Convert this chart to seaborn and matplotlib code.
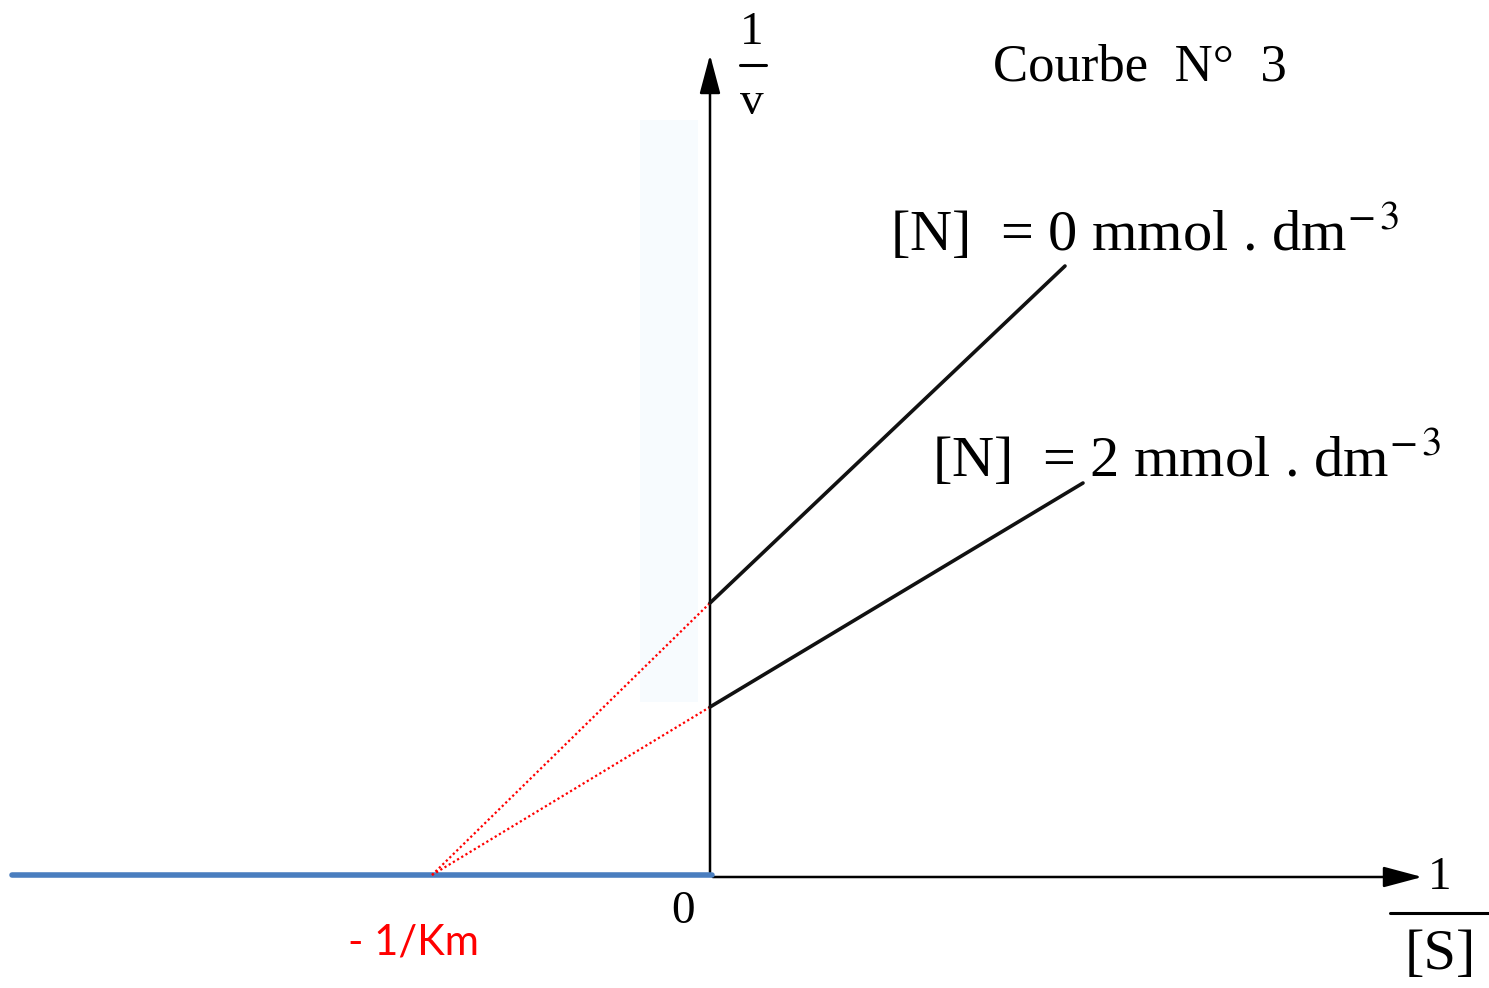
import matplotlib
matplotlib.use("Agg")
import matplotlib.pyplot as plt
import seaborn as sns
import pandas as pd

# Lineweaver-Burk plot, Courbe N° 3 (arbitrary units, origin = 0)

# --- data ---
km_x = -2.78                       # -1/Km intersection on the x axis
conc_labels = ["[N]  = 0", "[N]  = 2"]
seg_x0 = [0.0, 3.55]               # [N] = 0 mmol/dm3
seg_y0 = [2.72, 6.09]
seg_x2 = [0.0, 3.73]               # [N] = 2 mmol/dm3
seg_y2 = [1.68, 3.92]
blue_x = [-6.98, 0.02]
blue_y = [0.0, 0.0]
x_axis_end = 7.15
y_axis_end = 8.23

sns.set_theme(style="white")
plt.rcParams["font.family"] = ["Liberation Serif", "DejaVu Serif"]
plt.rcParams["mathtext.fontset"] = "stix"
plt.rcParams["text.color"] = "black"

fig = plt.figure(figsize=(14.89, 9.88), dpi=100)
ax = fig.add_axes([0, 0, 1, 1])
ax.set_xlim(-7.10, 7.79)
ax.set_ylim(-1.13, 8.75)
ax.axis("off")

# faint light-blue patch left of y axis
ax.fill_between([-0.70, -0.12], 1.73, 7.55, color="#f7fbfe", lw=0, zorder=0)

# axes with arrows
arrow = dict(arrowstyle="-|>,head_length=0.75,head_width=0.2",
             lw=1.8, color="black", mutation_scale=32)
ax.annotate("", xy=(0, y_axis_end), xytext=(0, 0), arrowprops=arrow)
ax.annotate("", xy=(x_axis_end, -0.02), xytext=(0, -0.02), arrowprops=arrow)

# blue line on negative x axis
sns.lineplot(x=blue_x, y=blue_y, ax=ax, color="#4a7ebf", lw=4, zorder=3)

# red dotted extrapolations to -1/Km
for yy in [seg_y0[0], seg_y2[0]]:
    ext = pd.DataFrame({"x": [km_x, 0.0], "y": [0.0, yy]})
    sns.lineplot(data=ext, x="x", y="y", ax=ax, color="red", lw=1.6,
                 linestyle=(0, (1, 1.2)), zorder=4)

# measured lines
sns.lineplot(x=seg_x0, y=seg_y0, ax=ax, color="#111111", lw=2.6, zorder=5)
sns.lineplot(x=seg_x2, y=seg_y2, ax=ax, color="#111111", lw=2.6, zorder=5)

# 1/v label
ax.text(0.42, 8.42, "1", fontsize=34, ha="center", va="center")
ax.plot([0.30, 0.56], [8.10, 8.10], color="black", lw=2.2)
ax.text(0.42, 7.72, "v", fontsize=34, ha="center", va="center")

# 1/[S] label
ax.text(7.30, -0.03, "1", fontsize=34, ha="center", va="center")
ax.plot([6.80, 7.79], [-0.38, -0.38], color="black", lw=2.2)
ax.text(7.30, -0.80, "[S]", fontsize=42, ha="center", va="center")

# origin
ax.text(-0.27, -0.37, "0", fontsize=34, ha="center", va="center")

# title and curve labels
ax.text(4.30, 8.07, "Courbe  N°  3", fontsize=38, ha="center", va="center")
ax.text(1.80, 6.42, conc_labels[0] + r" mmol . dm$^{-\,3}$", fontsize=42,
        ha="left", va="center")
ax.text(2.22, 4.16, conc_labels[1] + r" mmol . dm$^{-\,3}$", fontsize=42,
        ha="left", va="center")

# -1/Km label
ax.text(km_x - 0.19, -0.67, "- 1/Km", fontsize=30, color="red",
        ha="center", va="center", family=["Lato", "DejaVu Sans"])

fig.savefig("out.png", dpi=100)
